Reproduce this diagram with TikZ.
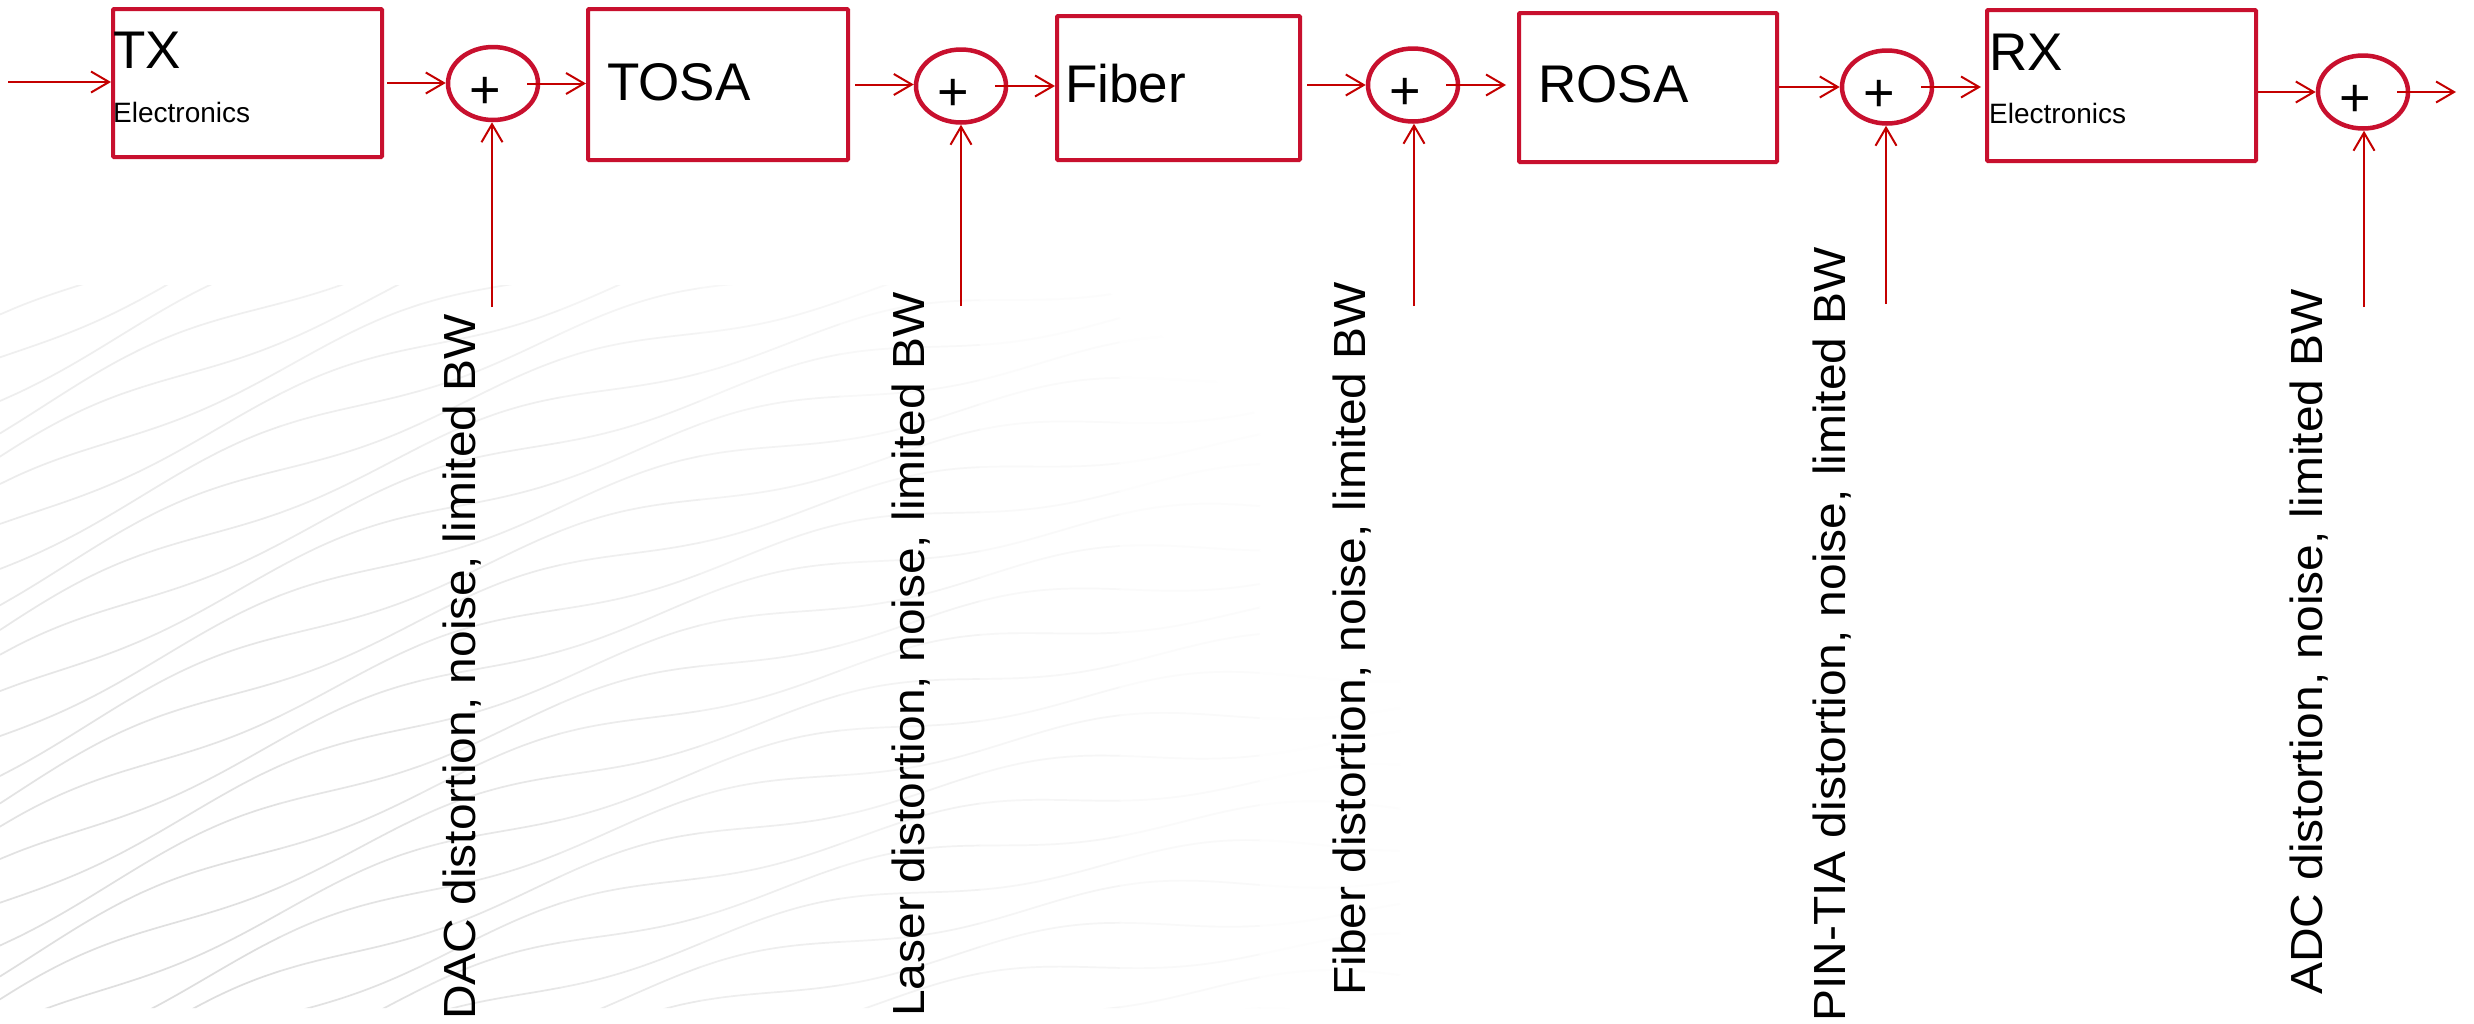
\documentclass[tikz,border=0pt]{standalone}
\usepackage{fontspec}
\usepackage{graphicx}
\setmainfont{Liberation Sans}
\usetikzlibrary{arrows.meta,shapes.geometric,calc}

\definecolor{boxred}{RGB}{200,16,46}
\definecolor{arrowred}{RGB}{196,0,0}

\newcommand{\lblstretch}[1]{\scalebox{1.065}[1]{#1}}

\tikzset{
  blk/.style={rectangle, draw=boxred, line width=4pt, rounded corners=1pt, inner sep=0pt},
  sumnode/.style={ellipse, draw=boxred, line width=4.5pt, minimum width=90pt, minimum height=73pt, inner sep=0pt},
  plussign/.style={inner sep=0pt, font=\fontsize{54}{60}\selectfont},
  bigtxt/.style={anchor=base west, inner sep=0pt, font=\fontsize{53}{60}\selectfont},
  smalltxt/.style={anchor=base west, inner sep=0pt, font=\fontsize{28}{32}\selectfont},
  lbl/.style={rotate=90, anchor=base west, inner sep=0pt, font=\fontsize{45}{52}\selectfont},
  arr/.style={draw=arrowred, line width=2pt, -{Straight Barb[length=18pt, width=21pt, line width=2pt]}},
  wave/.style={line width=1.7pt, line cap=round},
}

\begin{document}
\begin{tikzpicture}[x=1pt, y=-1pt]
\useasboundingbox (0,0) rectangle (2474,1023);
\fill[white] (0,0) rectangle (2474,1023);

% faint wavy line texture in the lower left, lighter away from its corner
\begin{scope}
  \clip (0,285) -- (1100,285) -- (1600,700) -- (1600,1008) -- (0,1008) -- cycle;
  \foreach \c in {290,324,...,1460} {
    \foreach \xa in {0,140,...,1400} {
      \pgfmathsetmacro\xb{\xa+140}
      \pgfmathsetmacro\xm{\xa+70}
      \pgfmathsetmacro\ym{\c - 0.5*\xm + 1.7*(\xm/100)*(\xm/100)}
      \pgfmathsetmacro\dd{min(1, veclen((\xm-150)/100, (\ym-1000)/100)/12.5)}
      \pgfmathsetmacro\gv{0.865+0.135*\dd}
      \definecolor{wc}{gray}{\gv}
      \draw[wave, draw=wc] plot[domain=\xa:\xb, samples=8, smooth]
        (\x, {\c - 0.5*\x + 1.7*(\x/100)*(\x/100) + 10*sin(\x*0.9 + \c*2)});
    }
  }
\end{scope}

% processing blocks
\node[blk, minimum width=269pt, minimum height=148pt] (tx)    at (247.5,83)   {};
\node[blk, minimum width=260pt, minimum height=151pt] (tosa)  at (718,84.5)   {};
\node[blk, minimum width=243pt, minimum height=144pt] (fiber) at (1178.5,88)  {};
\node[blk, minimum width=258pt, minimum height=149pt] (rosa)  at (1648,87.5)  {};
\node[blk, minimum width=269pt, minimum height=151pt] (rx)    at (2121.5,85.5){};

\node[bigtxt]   (txname)  at (113,68)   {TX};
\node[smalltxt] (txsub)   at (113,122)  {Electronics};
\node[bigtxt]   (tosaname) at (607,100) {TOSA};
\node[bigtxt]   (fibername) at (1065,102) {Fiber};
\node[bigtxt]   (rosaname) at (1538,102) {ROSA};
\node[bigtxt]   (rxname)  at (1989,70)  {RX};
\node[smalltxt] (rxsub)   at (1989,123) {Electronics};

% summing junctions
\node[sumnode] (s1) at (493,83.5) {};
\node[sumnode] (s2) at (961,86)   {};
\node[sumnode] (s3) at (1413,85)  {};
\node[sumnode] (s4) at (1887,87)  {};
\node[sumnode] (s5) at (2363,92)  {};

\node[plussign] (p1) at ($(s1)+(-8,9)$) {+};
\node[plussign] (p2) at ($(s2)+(-8,9)$) {+};
\node[plussign] (p3) at ($(s3)+(-8,9)$) {+};
\node[plussign] (p4) at ($(s4)+(-8,9)$) {+};
\node[plussign] (p5) at ($(s5)+(-8,9)$) {+};

% signal path
\coordinate (src)  at (8,82);
\coordinate (sink) at (2456,93);
\draw[arr] (src) -- (src -| tx.west);
\draw[arr] ([xshift=3pt]tx.east) -- (tx.east -| s1.west);
\draw[arr] ([xshift=-13pt]s1.east) -- (s1.east -| tosa.west);
\draw[arr] ([xshift=5pt]tosa.east) -- (tosa.east -| s2.west);
\draw[arr] ([xshift=-13pt]s2.east) -- (s2.east -| fiber.west);
\draw[arr] ([xshift=5pt]fiber.east |- s3.west) -- (s3.west);
\draw[arr] ([xshift=-14pt]s3.east) -- ($(s3.east -| rosa.west)+(-11,0)$);
\draw[arr] (rosa.east |- s4.west) -- (s4.west);
\draw[arr] ([xshift=-13pt]s4.east) -- ($(s4.east -| rx.west)+(-4,0)$);
\draw[arr] (rx.east |- s5.west) -- (s5.west);
\draw[arr] ([xshift=-13pt]s5.east) -- (s5.east -| sink);

% impairment inputs
\coordinate (n1) at (492,307);
\coordinate (n2) at (961,306);
\coordinate (n3) at (1414,306);
\coordinate (n4) at (1886,304);
\coordinate (n5) at (2364,307);
\draw[arr] (n1) -- (n1 |- s1.south);
\draw[arr] (n2) -- (n2 |- s2.south);
\draw[arr] (n3) -- (n3 |- s3.south);
\draw[arr] (n4) -- (n4 |- s4.south);
\draw[arr] (n5) -- (n5 |- s5.south);

% impairment labels
\node[lbl] (l1) at (475,1020)  {\lblstretch{DAC distortion, noise, limited BW}};
\node[lbl] (l2) at (924,1017)  {\lblstretch{Laser distortion, noise, limited BW}};
\node[lbl] (l3) at (1365,996)  {\lblstretch{Fiber distortion, noise, limited BW}};
\node[lbl] (l4) at (1845,1022) {\lblstretch{PIN-TIA distortion, noise, limited BW}};
\node[lbl] (l5) at (2322,995)  {\lblstretch{ADC distortion, noise, limited BW}};
\end{tikzpicture}
\end{document}
